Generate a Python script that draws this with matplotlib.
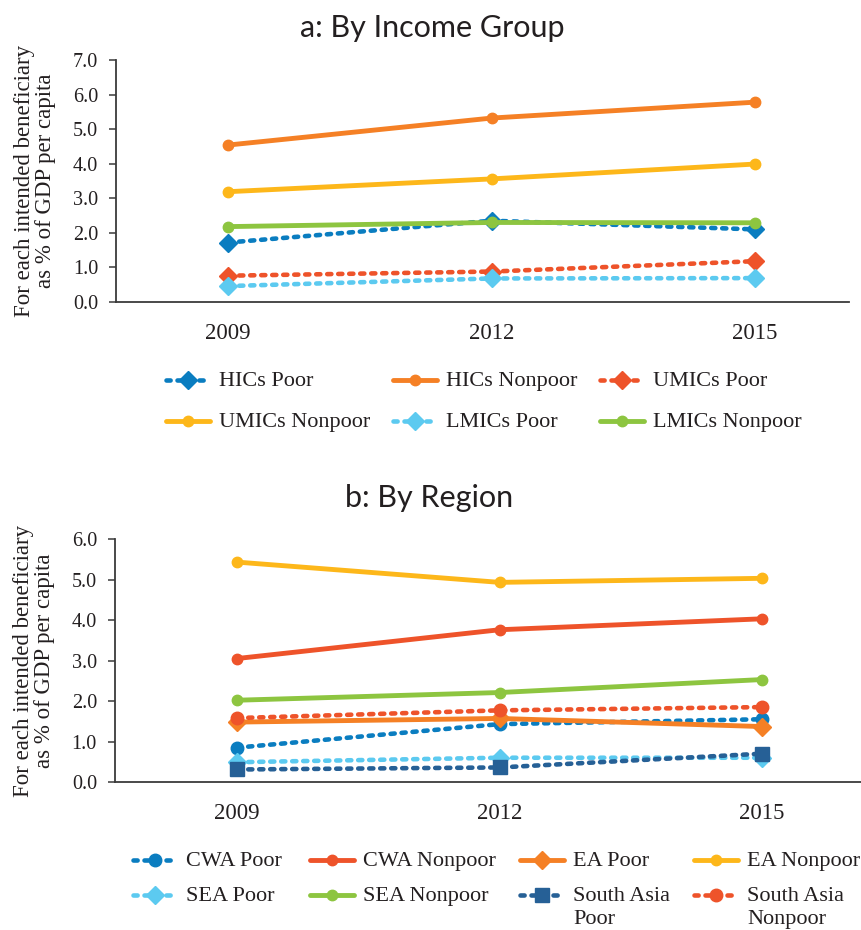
import matplotlib.pyplot as plt
from matplotlib.ticker import FormatStrFormatter, MultipleLocator

years = ['2009', '2012', '2015']

# a: by income group
hics_poor = [1.72, 2.35, 2.10]
hics_nonpoor = [4.54, 5.32, 5.78]
umics_poor = [0.76, 0.88, 1.18]
umics_nonpoor = [3.19, 3.56, 3.99]
lmics_poor = [0.46, 0.68, 0.69]
lmics_nonpoor = [2.18, 2.30, 2.29]

# b: by region
cwa_poor = [0.85, 1.43, 1.55]
cwa_nonpoor = [3.05, 3.76, 4.03]
ea_poor = [1.48, 1.57, 1.37]
ea_nonpoor = [5.43, 4.93, 5.03]
sea_poor = [0.49, 0.60, 0.60]
sea_nonpoor = [2.02, 2.21, 2.53]
sa_poor = [0.31, 0.36, 0.70]
sa_nonpoor = [1.58, 1.77, 1.85]

BLUE = '#0A7DC0'
ORANGE = '#F58025'
RED = '#EE532A'
YELLOW = '#FDB71A'
LBLUE = '#5CCAF0'
GREEN = '#8DC540'
NAVY = '#266096'
TXT = '#231f20'

plt.rcParams['font.family'] = 'Liberation Serif'

# (values, label, color, marker, markersize, dashed)
income = [
    (hics_poor, 'HICs Poor', BLUE, 'D', 9.5, True),
    (hics_nonpoor, 'HICs Nonpoor', ORANGE, 'o', 7.5, False),
    (umics_poor, 'UMICs Poor', RED, 'D', 9.5, True),
    (umics_nonpoor, 'UMICs Nonpoor', YELLOW, 'o', 7.5, False),
    (lmics_poor, 'LMICs Poor', LBLUE, 'D', 9.5, True),
    (lmics_nonpoor, 'LMICs Nonpoor', GREEN, 'o', 7.5, False),
]
region = [
    (cwa_poor, 'CWA Poor', BLUE, 'o', 9, True),
    (cwa_nonpoor, 'CWA Nonpoor', RED, 'o', 7.5, False),
    (ea_poor, 'EA Poor', ORANGE, 'D', 9.5, False),
    (ea_nonpoor, 'EA Nonpoor', YELLOW, 'o', 7.5, False),
    (sea_poor, 'SEA Poor', LBLUE, 'D', 9.5, True),
    (sea_nonpoor, 'SEA Nonpoor', GREEN, 'o', 7.5, False),
    (sa_poor, 'South Asia\nPoor', NAVY, 's', 9.5, True),
    (sa_nonpoor, 'South Asia\nNonpoor', RED, 'o', 9, True),
]

fig = plt.figure(figsize=(8.62, 9.3), dpi=100)
ax1 = fig.add_axes([0.1346, 0.6753, 0.8504, 0.2602])
ax2 = fig.add_axes([0.1334, 0.1591, 0.8660, 0.2613])


def draw(ax, series, ymax, xlim):
    x = list(range(len(years)))
    handles = []
    for vals, label, color, mk, ms, dashed in series:
        if dashed:
            h, = ax.plot(x, vals, color=color, lw=3.3, ls=(0, (0.9, 1.5)),
                         dash_capstyle='round', marker=mk, ms=ms, label=label)
        else:
            h, = ax.plot(x, vals, color=color, lw=3.5, marker=mk, ms=ms,
                         label=label, solid_capstyle='round')
        h.set_clip_on(False)
        handles.append(h)
    ax.set_xlim(*xlim)
    ax.set_ylim(0, ymax)
    ax.set_xticks(x)
    ax.set_xticklabels(years)
    ax.yaxis.set_major_locator(MultipleLocator(1))
    ax.yaxis.set_major_formatter(FormatStrFormatter('%.1f'))
    for s in ['top', 'right']:
        ax.spines[s].set_visible(False)
    for s in ['left', 'bottom']:
        ax.spines[s].set_color('#3a3a3a')
        ax.spines[s].set_linewidth(1.3)
    ax.tick_params(axis='x', length=0, pad=15, labelsize=16.5, colors=TXT)
    ax.tick_params(axis='y', length=5, width=1.1, color='#3a3a3a', pad=8,
                   labelsize=14.5, labelcolor=TXT)
    ax.set_ylabel('For each intended beneficiary\nas % of GDP per capita',
                  fontsize=16.5, color=TXT, labelpad=12, linespacing=1.0)
    return handles


h1 = draw(ax1, income, 7, (-0.426, 2.357))
h2 = draw(ax2, region, 6, (-0.466, 2.38))

fig.text(0.501, 0.970, 'a: By Income Group', ha='center', va='center',
         fontsize=22, family='Lato', color=TXT)
fig.text(0.498, 0.464, 'b: By Region', ha='center', va='center',
         fontsize=22, family='Lato', color=TXT)


def column_legend(handles, x, y, spacing):
    leg = fig.legend(handles=handles, loc='upper left', bbox_to_anchor=(x, y),
                     bbox_transform=fig.transFigure, frameon=False,
                     fontsize=16, handlelength=2.0, handletextpad=0.4,
                     borderpad=0, borderaxespad=0, labelspacing=spacing)
    for t in leg.get_texts():
        t.set_color(TXT)
        t.set_linespacing(1.25)
    # keep the handle on the first line of wrapped labels
    for col in leg._legend_handle_box.get_children():
        for item in col.get_children():
            item.align = 'top'
    return leg


# panel a legend: 3 columns x 2 rows
for i, xpos in enumerate([166, 393, 600]):
    column_legend([h1[i], h1[i + 3]], xpos / 862, 1 - 372 / 930, 1.0)

# panel b legend: 4 columns x 2 rows
for i, xpos in enumerate([133, 310, 520, 694]):
    column_legend([h2[i], h2[i + 4]], xpos / 862, 1 - 852 / 930, 0.72)

fig.savefig('out.png', dpi=100)
